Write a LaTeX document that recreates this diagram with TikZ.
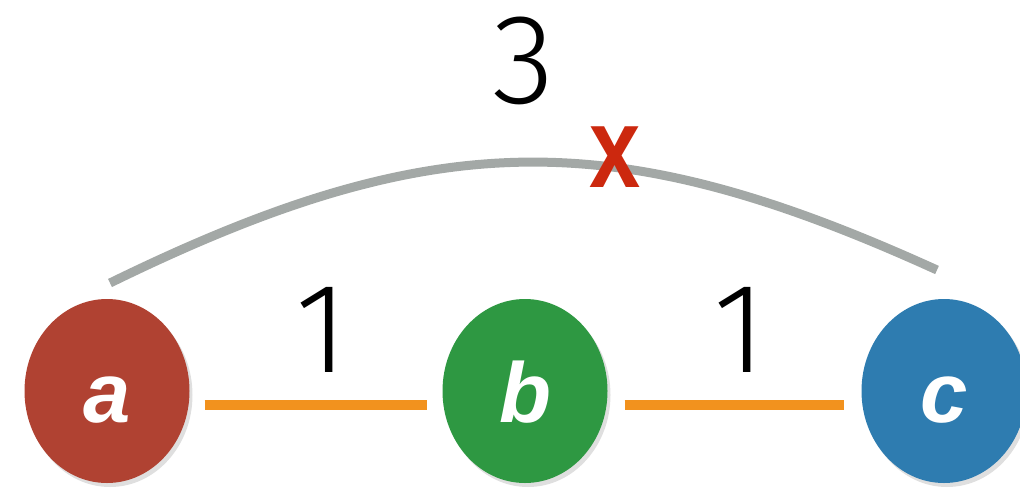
\documentclass[tikz,border=0pt]{standalone}
\usepackage{fontspec}
\setmainfont{Liberation Sans}
\newfontfamily\lightfont{Fira Sans Light}
\usetikzlibrary{shapes.geometric,shadows}
\definecolor{nodeA}{RGB}{176,66,50}
\definecolor{nodeB}{RGB}{46,152,66}
\definecolor{nodeC}{RGB}{46,124,176}
\definecolor{edgeO}{RGB}{242,146,30}
\definecolor{arcG}{RGB}{163,168,166}
\definecolor{crossR}{RGB}{204,40,14}
\tikzset{
  vertex/.style={ellipse, minimum width=165pt, minimum height=184pt, inner sep=0pt,
    text=white, font=\fontsize{85}{85}\selectfont\bfseries\itshape,
    text height=62pt, text depth=0pt,
    drop shadow={opacity=0.25, shadow xshift=3pt, shadow yshift=-4pt}},
  weight/.style={font=\lightfont\fontsize{128}{128}\selectfont, text=black, inner sep=0pt},
  edge/.style={draw=edgeO, line width=10pt},
  bigarc/.style={draw=arcG, line width=9pt},
}
\begin{document}
\begin{tikzpicture}[x=1pt,y=-1pt]
\useasboundingbox (0,0) rectangle (1020,491);
\node[vertex, fill=nodeA] (a) at (107,391) {a};
\node[vertex, fill=nodeB] (b) at (525,391) {b};
\node[vertex, fill=nodeC] (c) at (944,391) {c};
\draw[edge] ([xshift=15pt,yshift=-14pt]a.east) -- ([xshift=-15pt,yshift=-14pt]b.west);
\draw[edge] ([xshift=17pt,yshift=-14pt]b.east) -- ([xshift=-17pt,yshift=-14pt]c.west);
\coordinate (arcL) at (110,283);
\coordinate (arcR) at (937,270);
\draw[bigarc] (arcL) .. controls (435,124) and (616,124) .. (arcR);
\node[weight] (w1) at (322,330) {1};
\node[weight] (w2) at (740,330) {1};
\node[weight] (w3) at (524,61) {3};
\node[inner sep=0pt, text=crossR, font=\fontsize{115}{115}\selectfont\bfseries, xscale=0.8] (x) at (615,157) {x};
\end{tikzpicture}
\end{document}
